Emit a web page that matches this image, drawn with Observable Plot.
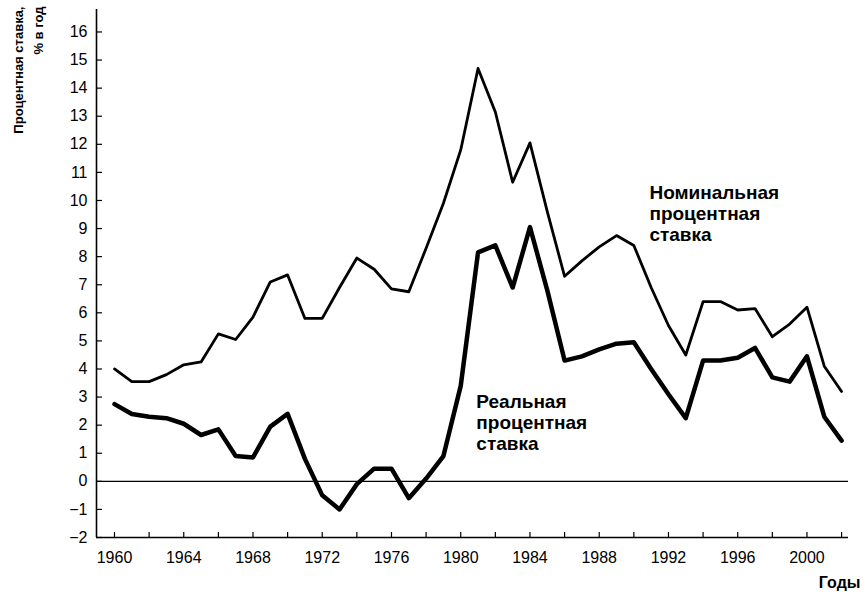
<!DOCTYPE html>
<html><head><meta charset="utf-8">
<script src="https://cdn.jsdelivr.net/npm/d3@7"></script>
<script src="https://cdn.jsdelivr.net/npm/@observablehq/plot@0.6"></script>
<style>html,body{margin:0;padding:0;background:#fff} svg{display:block}</style>
</head><body><div id="chart"></div>
<script>
const years = [1960,1961,1962,1963,1964,1965,1966,1967,1968,1969,
  1970,1971,1972,1973,1974,1975,1976,1977,1978,1979,
  1980,1981,1982,1983,1984,1985,1986,1987,1988,1989,
  1990,1991,1992,1993,1994,1995,1996,1997,1998,1999,
  2000,2001,2002];
const nominal = [4.0,3.55,3.55,3.8,4.15,4.25,5.25,5.05,5.85,7.1,
  7.35,5.8,5.8,6.9,7.95,7.55,6.85,6.75,8.3,9.9,
  11.8,14.7,13.15,10.65,12.05,9.6,7.3,7.85,8.35,8.75,
  8.4,6.9,5.55,4.5,6.4,6.4,6.1,6.15,5.15,5.6,
  6.2,4.1,3.2];
const real = [2.75,2.4,2.3,2.25,2.05,1.65,1.85,0.9,0.85,1.95,
  2.4,0.8,-0.5,-1.0,-0.1,0.45,0.45,-0.6,0.1,0.9,
  3.4,8.15,8.4,6.9,9.05,6.8,4.3,4.45,4.7,4.9,
  4.95,4.0,3.1,2.25,4.3,4.3,4.4,4.75,3.7,3.55,
  4.45,2.3,1.45];
const xTicks = [1960,1962,1964,1966,1968,1970,1972,1974,1976,1978,1980,1982,1984,1986,1988,1990,1992,1994,1996,1998,2000,2002];
const xTickLabels = [1960,1964,1968,1972,1976,1980,1984,1988,1992,1996,2000];
const yTicks = [-2,-1,0,1,2,3,4,5,6,7,8,9,10,11,12,13,14,15,16];
const yTitle = "Процентная ставка,\n% в год";
const xTitle = "Годы";
const nominalLabel = "Номинальная\nпроцентная\nставка";
const realLabel = "Реальная\nпроцентная\nставка";

const rows = years.map((year, i) => ({year, nominal: nominal[i], real: real[i]}));
const annotations = [
  {year: 1990.9, value: 9.55, text: nominalLabel},
  {year: 1980.9, value: 2.1, text: realLabel}
];
const xDomain = [1958.96, 2002.4];
const yDomain = [-2, 16.8];
const font = "'Liberation Sans', Arial, Helvetica, sans-serif";

const chart = Plot.plot({
  width: 865, height: 606,
  marginLeft: 96, marginRight: 17, marginTop: 9, marginBottom: 69,
  style: {fontFamily: font, background: "#fff", color: "#000"},
  x: {domain: xDomain},
  y: {domain: yDomain},
  marks: [
    Plot.ruleY([0], {strokeWidth: 1.3}),
    Plot.ruleX([xDomain[0]], {strokeWidth: 1.6}),
    Plot.ruleY([yDomain[0]], {strokeWidth: 1.6}),
    Plot.axisX(xTicks, {tickSize: -5, strokeWidth: 1.2, tickFormat: () => "", label: null}),
    Plot.axisX(xTickLabels, {tickSize: 0, tickPadding: 14, fontSize: 16, tickFormat: d => String(d), label: null}),
    Plot.axisY(yTicks, {tickSize: -6, strokeWidth: 1.2, tickFormat: () => "", label: null}),
    Plot.axisY(yTicks, {tickSize: 0, tickPadding: 9, fontSize: 16, tickFormat: d => d < 0 ? "\u2212" + (-d) : String(d), label: null}),
    Plot.line(rows, {x: "year", y: "nominal", strokeWidth: 2.8, strokeLinejoin: "round"}),
    Plot.line(rows, {x: "year", y: "real", strokeWidth: 4.5, strokeLinejoin: "round"}),
    Plot.text(annotations, {x: "year", y: "value", text: "text", textAnchor: "start", fontWeight: "bold", fontSize: 19, lineHeight: 1.1}),
    Plot.text([yTitle], {frameAnchor: "top-left", rotate: -90, textAnchor: "end", dx: -87, dy: -3, fontWeight: "bold", fontSize: 13, lineHeight: 1.5}),
    Plot.text([xTitle], {frameAnchor: "bottom-right", textAnchor: "end", dx: 12, dy: 50, fontWeight: "bold", fontSize: 16})
  ]
});
document.getElementById("chart").appendChild(chart);
</script>
</body></html>
